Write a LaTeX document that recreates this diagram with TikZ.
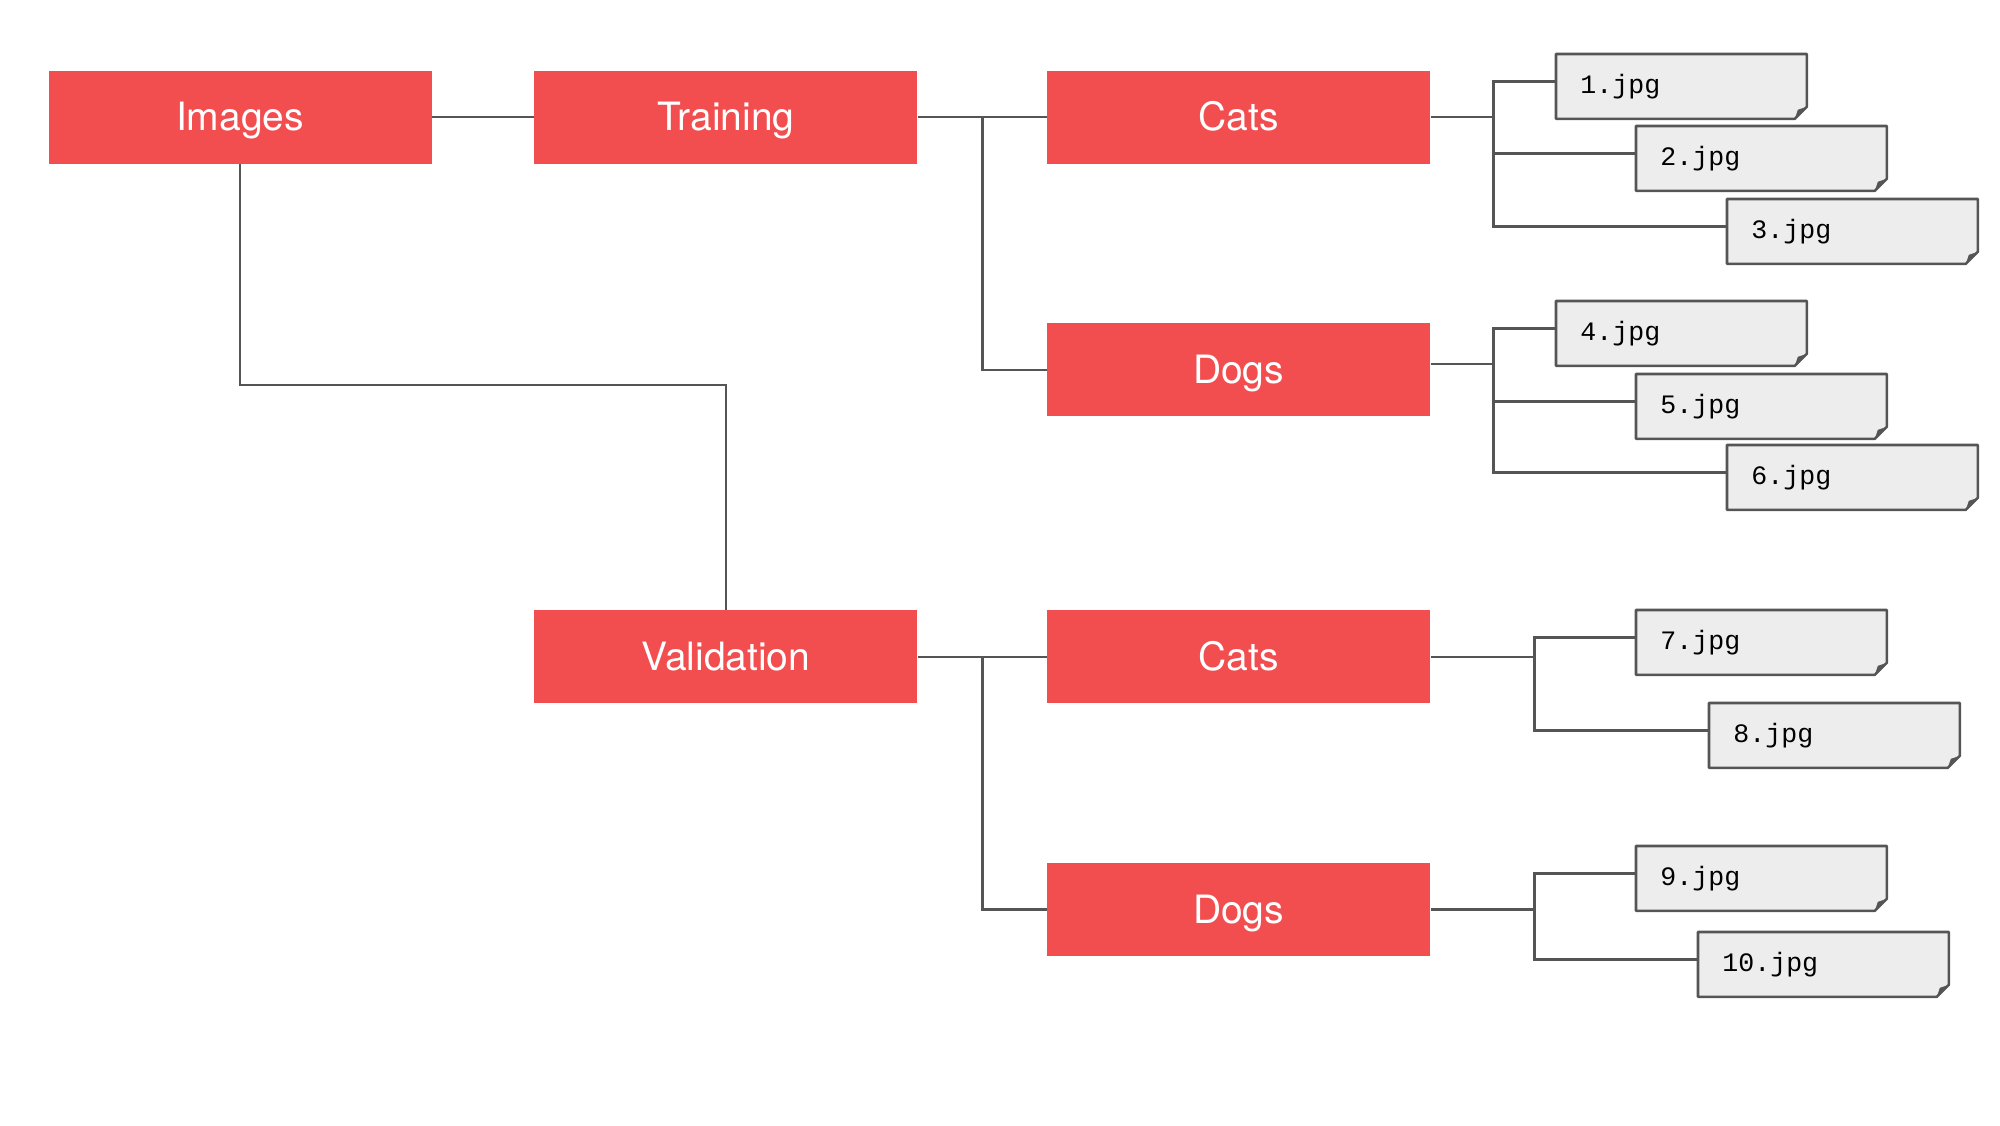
\documentclass[tikz,border=0pt]{standalone}
\usepackage{fontspec}
\setmainfont{TeX Gyre Heros}
\setmonofont{Liberation Mono}
\usepackage{tikz}
\usetikzlibrary{positioning, calc, backgrounds}

\definecolor{boxred}{HTML}{F24E4F}
\definecolor{linegray}{HTML}{555555}
\definecolor{filegray}{HTML}{EDEDED}

\begin{document}
\begin{tikzpicture}[x=0.5pt, y=-0.5pt,
    folder/.style={fill=boxred, text=white, font=\fontsize{19.5}{23}\selectfont, minimum width=\folderwidth, minimum height=\folderheight, text height=13.7pt, text depth=0pt, inner sep=0pt},
    jpgfile/.style={anchor=north west, font=\ttfamily\fontsize{13.3}{16}\selectfont, minimum height=\fileheight, text width=\filetextwidth, inner xsep=12pt, inner ysep=0pt, align=left},
    link/.style={draw=linegray, line width=1.3pt}]
  \newcommand\folderwidth{191.5pt}
  \newcommand\folderheight{46.5pt}
  \newcommand\fileheight{32pt}
  \newcommand\filetextwidth{101pt} % + 2*12pt = 125pt

  \useasboundingbox (0,0) rectangle (2000,1125);

  % folders
  \node[folder] at (240,117) (images) {Images};
  \node[folder, right=51pt of images] (training) {Training};
  \node[folder, right=64.5pt of training] (tcats) {Cats};
  \node[folder, below=79.5pt of tcats] (tdogs) {Dogs};
  \node[folder, below=223pt of training] (validation) {Validation};
  \node[folder, right=64.5pt of validation] (vcats) {Cats};
  \node[folder, below=79.5pt of vcats] (vdogs) {Dogs};

  % files
  \foreach \num/\x/\y in {1/1556/54, 2/1636/126, 3/1727/199, 4/1556/301, 5/1636/374, 6/1727/445, 7/1636/610, 8/1709/703, 9/1636/846, 10/1698/932}{
    \node[jpgfile] at (\x,\y) (f\num) {\num.jpg};
  }
  \begin{scope}[on background layer]
    \foreach \i in {1,...,10}{
      \filldraw[fill=filegray, draw=linegray, line width=1.3pt, line join=round] (f\i.north west) -- (f\i.north east) -- ([yshift=6pt]f\i.south east) -- ([xshift=-6pt]f\i.south east) -- (f\i.south west) -- cycle;
      \fill[linegray] ([yshift=6pt]f\i.south east) -- ([xshift=-6pt]f\i.south east) -- ([xshift=-4.5pt, yshift=4.5pt]f\i.south east) -- cycle;
    }
  \end{scope}

  % links
  \coordinate (imgturn) at (240,385);
  \coordinate (trainbus) at ($(training.east)!0.5!(tcats.west)$);
  \coordinate (valbus) at ($(validation.east)!0.5!(vcats.west)$);

  \draw[link] (images) -- (training);
  \draw[link] (images.south) -- (imgturn) -| (validation.north);
  \draw[link] (training) -- (tcats);
  \draw[link] (trainbus) |- (tdogs.west);
  \draw[link] (validation) -- (vcats);
  \draw[link] (valbus) |- (vdogs.west);

  \draw[link] (tcats.east) -- ++(63,0) coordinate (tcatsbus);
  \draw[link] ([yshift=3pt]tdogs.east) -- ++(63,0) coordinate (tdogsbus);
  \draw[link] (vcats.east) -- ++(104,0) coordinate (vcatsbus);
  \draw[link] (vdogs.east) -- ++(104,0) coordinate (vdogsbus);
  \foreach \bus/\f in {tcatsbus/f1, tcatsbus/f2, tcatsbus/f3, tdogsbus/f4, tdogsbus/f5, tdogsbus/f6, vcatsbus/f7, vcatsbus/f8, vdogsbus/f9, vdogsbus/f10}{
    \draw[link] (\bus) |- ([yshift=2.5pt]\f.west);
  }
\end{tikzpicture}
\end{document}
